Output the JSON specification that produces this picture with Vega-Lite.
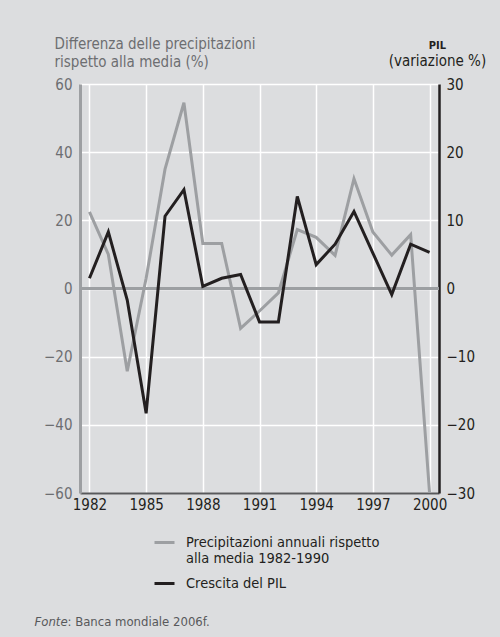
{
  "$schema": "https://vega.github.io/schema/vega-lite/v6.json",
  "width": 359,
  "height": 409,
  "autosize": {"type": "none"},
  "padding": {"left": 80, "top": 84, "right": 61, "bottom": 144},
  "background": "#dcdddf",
  "config": {
    "font": "DejaVu Sans Condensed",
    "view": {"stroke": null},
    "axis": {
      "ticks": false,
      "labelFont": "DejaVu Sans Condensed",
      "titleFont": "DejaVu Sans Condensed",
      "gridColor": "#ffffff",
      "gridWidth": 1.5,
      "gridOpacity": 1
    },
    "legend": {"labelFont": "DejaVu Sans Condensed"}
  },
  "title": {
    "text": "PIL",
    "subtitle": "(variazione %)",
    "anchor": "end",
    "align": "center",
    "dx": -37,
    "dy": 51,
    "offset": 18,
    "font": "DejaVu Sans Condensed",
    "fontSize": 11,
    "fontWeight": "bold",
    "color": "#231f20",
    "subtitleFont": "DejaVu Sans Condensed",
    "subtitleFontSize": 15,
    "subtitleColor": "#231f20",
    "subtitlePadding": 3
  },
  "data": {
    "values": [
      {"year": 1982, "prec": 22.5, "gdp": 1.5},
      {"year": 1983, "prec": 10.0, "gdp": 8.3},
      {"year": 1984, "prec": -24.3, "gdp": -1.7},
      {"year": 1985, "prec": 3.0, "gdp": -18.3},
      {"year": 1986, "prec": 35.0, "gdp": 10.6},
      {"year": 1987, "prec": 54.5, "gdp": 14.5},
      {"year": 1988, "prec": 13.2, "gdp": 0.3},
      {"year": 1989, "prec": 13.2, "gdp": 1.5},
      {"year": 1990, "prec": -11.7, "gdp": 2.05},
      {"year": 1991, "prec": -6.6, "gdp": -4.9},
      {"year": 1992, "prec": -1.3, "gdp": -4.9},
      {"year": 1993, "prec": 17.3, "gdp": 13.5},
      {"year": 1994, "prec": 15.0, "gdp": 3.5},
      {"year": 1995, "prec": 9.7, "gdp": 6.5},
      {"year": 1996, "prec": 32.2, "gdp": 11.3},
      {"year": 1997, "prec": 16.6, "gdp": 5.2},
      {"year": 1998, "prec": 9.8, "gdp": -0.9},
      {"year": 1999, "prec": 15.8, "gdp": 6.5},
      {"year": 2000, "prec": -60.0, "gdp": 5.3}
    ]
  },
  "resolve": {"scale": {"y": "independent"}},
  "layer": [
    {
      "layer": [
        {
          "mark": {"type": "rule", "color": "#9d9fa2", "strokeWidth": 2.5},
          "encoding": {"y": {"datum": 0, "type": "quantitative"}}
        },
        {
          "mark": {"type": "line", "strokeWidth": 3},
          "encoding": {
            "x": {
              "field": "year",
              "type": "quantitative",
              "scale": {"domain": [1981.5, 2000.5], "nice": false, "zero": false},
              "axis": {
                "values": [1982, 1985, 1988, 1991, 1994, 1997, 2000],
                "format": "d",
                "grid": true,
                "domainColor": "#58595b",
                "domainWidth": 2,
                "labelColor": "#231f20",
                "labelFontSize": 15,
                "labelPadding": 4,
                "labelFlush": false,
                "title": "Fonte",
                "titleFontStyle": "italic",
                "titleFontWeight": "normal",
                "titleFontSize": 13,
                "titleColor": "#58595b",
                "titleAlign": "left",
                "titleAnchor": "start",
                "titleBaseline": "alphabetic",
                "titleX": -46,
                "titleY": 132
              }
            },
            "y": {
              "field": "prec",
              "type": "quantitative",
              "scale": {"domain": [-60, 60], "nice": false},
              "axis": {
                "values": [-60, -50, -40, -30, -20, -10, 0, 10, 20, 30, 40, 50, 60],
                "labelExpr": "datum.value % 20 == 0 ? datum.label : ''",
                "grid": true,
                "domainColor": "#9d9fa2",
                "domainWidth": 3,
                "labelColor": "#6d6e71",
                "labelFontSize": 15,
                "labelPadding": 8,
                "title": ["Differenza delle precipitazioni", "rispetto alla media (%)"],
                "titleAngle": 0,
                "titleAlign": "left",
                "titleAnchor": "start",
                "titleBaseline": "alphabetic",
                "titleFontWeight": "normal",
                "titleFontSize": 15,
                "titleLineHeight": 18.5,
                "titleColor": "#6d6e71",
                "titleX": -26,
                "titleY": -36
              }
            },
            "color": {
              "datum": "Precipitazioni annuali rispetto alla media 1982-1990",
              "type": "nominal",
              "scale": {
                "domain": ["Precipitazioni annuali rispetto alla media 1982-1990", "Crescita del PIL"],
                "range": ["#9d9fa2", "#231f20"]
              },
              "legend": {
                "orient": "none",
                "legendX": 73,
                "legendY": 447,
                "title": null,
                "padding": 0,
                "symbolType": "stroke",
                "symbolSize": 400,
                "symbolStrokeWidth": 3,
                "labelFontSize": 14.5,
                "labelColor": "#231f20",
                "labelLimit": 400,
                "labelOffset": 10,
                "labelLineHeight": 18.5,
                "rowPadding": 6,
                "labelExpr": "datum.label == 'Crescita del PIL' ? datum.label : ['Precipitazioni annuali rispetto', 'alla media 1982-1990']"
              }
            }
          }
        }
      ]
    },
    {
      "mark": {"type": "line", "strokeWidth": 3},
      "encoding": {
        "x": {
          "field": "year",
          "type": "quantitative",
          "scale": {"domain": [1981.5, 2000.5], "nice": false, "zero": false},
          "axis": {
            "values": [1982, 1985, 1988, 1991, 1994, 1997, 2000],
            "format": "d",
            "grid": true,
            "domainColor": "#58595b",
            "domainWidth": 2,
            "labelColor": "#231f20",
            "labelFontSize": 15,
            "labelPadding": 4,
            "labelFlush": false,
            "title": "Fonte",
            "titleFontStyle": "italic",
            "titleFontWeight": "normal",
            "titleFontSize": 13,
            "titleColor": "#58595b",
            "titleAlign": "left",
            "titleAnchor": "start",
            "titleBaseline": "alphabetic",
            "titleX": -46,
            "titleY": 132
          }
        },
        "y": {
          "field": "gdp",
          "type": "quantitative",
          "scale": {"domain": [-30, 30], "nice": false},
          "axis": {
            "orient": "right",
            "values": [-30, -20, -10, 0, 10, 20, 30],
            "grid": false,
            "domainColor": "#231f20",
            "domainWidth": 2.5,
            "labelColor": "#231f20",
            "labelFontSize": 15,
            "labelPadding": 7,
            "title": ": Banca mondiale 2006f.",
            "titleAngle": 0,
            "titleAlign": "left",
            "titleAnchor": "start",
            "titleBaseline": "alphabetic",
            "titleFontWeight": "normal",
            "titleFontSize": 13,
            "titleColor": "#58595b",
            "titleX": -372,
            "titleY": 541
          }
        },
        "color": {"datum": "Crescita del PIL", "type": "nominal"}
      }
    }
  ]
}
